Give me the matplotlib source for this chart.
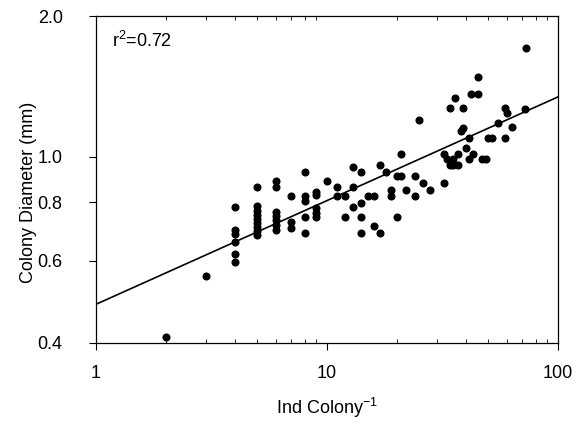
import numpy as np
import matplotlib
matplotlib.use("Agg")
import matplotlib.pyplot as plt
import matplotlib.ticker as mticker

plt.rcParams['font.family'] = ['Liberation Sans', 'DejaVu Sans']
plt.rcParams['mathtext.fontset'] = 'custom'
plt.rcParams['mathtext.rm'] = 'Liberation Sans'
plt.rcParams['mathtext.default'] = 'regular'

# individuals per colony and colony diameter (mm)
ind_per_colony = [2, 3,
                  4, 4, 4, 4, 4, 4,
                  5, 5, 5, 5, 5, 5, 5, 5, 5,
                  6, 6, 6, 6, 6, 6, 6,
                  7, 7, 7,
                  8, 8, 8, 8, 8,
                  9, 9, 9, 9, 9,
                  10, 11, 11, 12, 12, 13, 13, 13,
                  14, 14, 14, 14, 15, 16, 16, 17, 17, 18,
                  19, 19, 20, 20, 21, 21, 22, 24, 24, 25, 26, 28,
                  32, 32, 33, 34, 34, 35, 35, 36, 37, 37, 38, 39, 39,
                  40, 41, 41, 42, 43, 45, 45, 47, 49, 50, 52, 55,
                  59, 59, 60, 63, 72, 73]
diameter = [0.412, 0.555,
            0.783, 0.698, 0.685, 0.659, 0.619, 0.596,
            0.864, 0.785, 0.767, 0.752, 0.737, 0.722, 0.707, 0.693, 0.680,
            0.887, 0.864, 0.764, 0.748, 0.731, 0.716, 0.698,
            0.825, 0.726, 0.705,
            0.927, 0.825, 0.803, 0.745, 0.688,
            0.843, 0.827, 0.778, 0.759, 0.743,
            0.886, 0.864, 0.825, 0.825, 0.742, 0.951, 0.864, 0.783,
            0.928, 0.797, 0.742, 0.687, 0.825, 0.825, 0.712, 0.961, 0.687, 0.928,
            0.850, 0.825, 0.908, 0.742, 1.014, 0.908, 0.850, 0.908, 0.825, 1.198, 0.879, 0.850,
            1.014, 0.879, 0.989, 1.274, 0.961, 0.989, 0.961, 1.334, 1.014, 0.961, 1.138, 1.274, 1.152,
            1.043, 1.098, 0.989, 1.360, 1.014, 1.484, 1.360, 0.989, 0.989, 1.098, 1.098, 1.184,
            1.274, 1.098, 1.240, 1.156, 1.264, 1.710]

# fitted power law: diameter = a * ind^b
fit_a = 0.484
fit_b = 0.2216
r2_text = 'r$^2$=0.72'

yticks = [0.4, 0.6, 0.8, 1.0, 2.0]
yticklabels = ['0.4', '0.6', '0.8', '1.0', '2.0']

fig = plt.figure(figsize=(5.83, 4.28), dpi=100)
ax = fig.add_axes([0.1647, 0.1986, 0.7923, 0.764])

ax.plot(ind_per_colony, diameter, ls='', marker='o', ms=4.8, color='black')

xfit = np.array([1, 100])
ax.plot(xfit, fit_a * xfit ** fit_b, color='black', lw=1.2)

ax.set_xscale('log')
ax.set_yscale('log')
ax.set_xlim(1, 100)
ax.set_ylim(0.4, 2.0)

ax.xaxis.set_major_locator(mticker.FixedLocator([1, 10, 100]))
ax.xaxis.set_major_formatter(mticker.FixedFormatter(['1', '10', '100']))
ax.xaxis.set_minor_locator(mticker.LogLocator(base=10, subs=np.arange(2, 10)))
ax.xaxis.set_minor_formatter(mticker.NullFormatter())

ax.yaxis.set_major_locator(mticker.FixedLocator(yticks))
ax.yaxis.set_major_formatter(mticker.FixedFormatter(yticklabels))
ax.yaxis.set_minor_locator(mticker.NullLocator())

ax.tick_params(which='major', direction='out', length=5, width=0.8, labelsize=13)
ax.tick_params(axis='x', which='major', pad=11)
ax.tick_params(axis='y', which='major', pad=19)
ax.tick_params(axis='x', which='minor', direction='in', length=3, width=0.6, top=True)

for s in ax.spines.values():
    s.set_linewidth(0.9)

ax.set_xlabel('Ind Colony$^{-1}$', fontsize=13, labelpad=10)
ax.set_ylabel('Colony Diameter (mm)', fontsize=13)
ax.yaxis.set_label_coords(-0.128, 0.462)

ax.text(0.035, 0.955, r2_text, transform=ax.transAxes, fontsize=13, va='top', ha='left')

fig.savefig('out.png', dpi=100)
